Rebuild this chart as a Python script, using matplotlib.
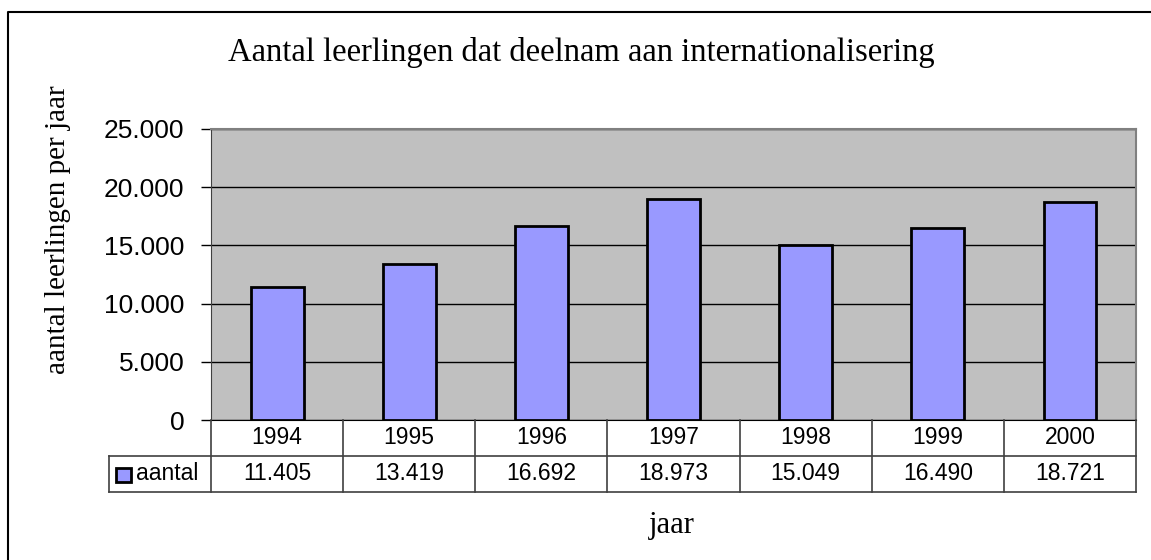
import matplotlib.pyplot as plt
from matplotlib.lines import Line2D

# data
jaren = ['1994', '1995', '1996', '1997', '1998', '1999', '2000']
aantal = [11405, 13419, 16692, 18973, 15049, 16490, 18721]
y_ticks = [0, 5000, 10000, 15000, 20000, 25000]
serie_naam = 'aantal'

W, H = 1151, 560
fig = plt.figure(figsize=(W / 100, H / 100), dpi=100)

def fx(px):
    return px / W

def fy(py):
    return 1 - py / H

def nl(v):
    # dutch thousands separator
    return f'{v:,}'.replace(',', '.')

# plot area in pixels
left, right, top, bottom = 211, 1136, 129, 420
ax = fig.add_axes([fx(left), fy(bottom), fx(right) - fx(left), fy(top) - fy(bottom)])
ax.set_facecolor('#C0C0C0')

x = list(range(len(jaren)))
ax.bar(x, aantal, width=0.4, color='#9999FF', edgecolor='black', linewidth=2, zorder=3)
ax.set_xlim(-0.5, len(jaren) - 0.5)
ax.set_ylim(0, 25000)
ax.set_yticks(y_ticks)
ax.set_yticklabels([nl(v) for v in y_ticks], fontsize=19, family='Liberation Sans')
ax.tick_params(axis='y', length=7, width=1, pad=12)
ax.set_xticks([])
ax.yaxis.grid(True, color='black', linewidth=1, zorder=1)
ax.set_axisbelow(True)
for s in ['top', 'right']:
    ax.spines[s].set_color('#808080')
    ax.spines[s].set_linewidth(1.5)
ax.spines['left'].set_color('#404040')
ax.spines['bottom'].set_color('black')

# data table below plot
row1, row2, row3 = 420, 456, 492
leg_left = 109
cw = (right - left) / len(jaren)
lc = '#404040'
lines = [
    ((leg_left, right), (row2, row2)),
    ((leg_left, right), (row3, row3)),
    ((leg_left, leg_left), (row2, row3)),
    ((left, left), (row1, row3)),
    ((right, right), (row1, row3)),
]
for i in range(1, len(jaren)):
    xx = left + i * cw
    lines.append(((xx, xx), (row1, row3)))
for (xs, ys) in lines:
    fig.add_artist(Line2D([fx(xs[0]), fx(xs[1])], [fy(ys[0]), fy(ys[1])],
                          transform=fig.transFigure, color=lc, linewidth=1.2))

for i, (j, v) in enumerate(zip(jaren, aantal)):
    cx = left + (i + 0.5) * cw
    fig.text(fx(cx), fy((row1 + row2) / 2), j, ha='center', va='center',
             fontsize=16.5, family='Liberation Sans')
    fig.text(fx(cx), fy((row2 + row3) / 2), nl(v),
             ha='center', va='center', fontsize=16.5, family='Liberation Sans')

# legend key in the table
fig.add_artist(plt.Rectangle((fx(116), fy(482)), fx(15), fy(468) - fy(482),
                             transform=fig.transFigure, facecolor='#9999FF',
                             edgecolor='black', linewidth=2))
fig.text(fx(136), fy((row2 + row3) / 2), serie_naam, ha='left', va='center',
         fontsize=16.5, family='Liberation Sans')

# titles
fig.text(fx(581), fy(53), 'Aantal leerlingen dat deelnam aan internationalisering',
         ha='center', va='center', fontsize=23.5, family='Liberation Serif')
fig.text(fx(58), fy(230), 'aantal leerlingen per jaar', rotation=90,
         ha='center', va='center', fontsize=21, family='Liberation Serif')
fig.text(fx(672), fy(526), 'jaar', ha='center', va='center',
         fontsize=22, family='Liberation Serif')

# outer chart border (only top and left visible)
fig.add_artist(Line2D([fx(8), fx(8), fx(1151)], [fy(560), fy(12), fy(12)],
                      transform=fig.transFigure, color='black', linewidth=1.5))

fig.savefig('out.png', dpi=100)
